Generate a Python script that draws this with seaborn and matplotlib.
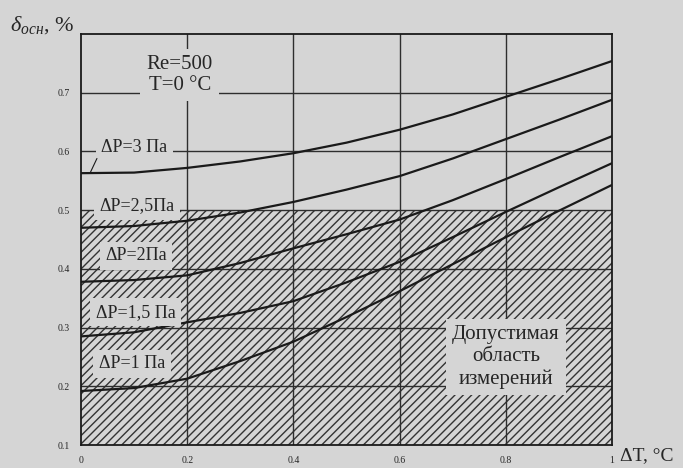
import numpy as np
import pandas as pd
import matplotlib
matplotlib.use('Agg')
import matplotlib.pyplot as plt
import seaborn as sns

# данные
dT = [0.0, 0.1, 0.2, 0.3, 0.4, 0.5, 0.6, 0.7, 0.8, 0.9, 1.0]
dp3 = [0.563, 0.564, 0.572, 0.583, 0.597, 0.615, 0.637, 0.663, 0.693, 0.723, 0.754]
dp25 = [0.470, 0.473, 0.482, 0.496, 0.514, 0.535, 0.558, 0.588, 0.621, 0.654, 0.688]
dp2 = [0.378, 0.381, 0.389, 0.410, 0.435, 0.459, 0.484, 0.517, 0.553, 0.590, 0.626]
dp15 = [0.285, 0.292, 0.309, 0.325, 0.345, 0.377, 0.412, 0.454, 0.497, 0.539, 0.580]
dp1 = [0.192, 0.197, 0.213, 0.243, 0.276, 0.318, 0.362, 0.408, 0.454, 0.499, 0.543]

series_names = ['ΔP=3 Па', 'ΔP=2,5Па', 'ΔP=2Па', 'ΔP=1,5 Па', 'ΔP=1 Па']
series_values = [dp3, dp25, dp2, dp15, dp1]

x_ticks = [0, 0.2, 0.4, 0.6, 0.8, 1]
x_tick_labels = ['0', '0.2', '0.4', '0.6', '0.8', '1']
y_ticks = [0.1, 0.2, 0.3, 0.4, 0.5, 0.6, 0.7]
y_tick_labels = ['0.1', '0.2', '0.3', '0.4', '0.5', '0.6', '0.7']

allowed_low = 0.1
allowed_high = 0.5

bg = '#d5d5d5'
ink = '#1a1a1a'

sns.set_style('white')
plt.rcParams['font.family'] = ['Liberation Serif', 'DejaVu Serif']
plt.rcParams['mathtext.fontset'] = 'custom'
plt.rcParams['mathtext.rm'] = 'Liberation Serif'
plt.rcParams['mathtext.it'] = 'Liberation Serif:italic'
plt.rcParams['hatch.linewidth'] = 1.0
plt.rcParams['hatch.color'] = '#333333'

df = pd.concat([pd.DataFrame({'dT': dT, 'delta': v, 'dp': n})
                for n, v in zip(series_names, series_values)], ignore_index=True)

fig = plt.figure(figsize=(6.83, 4.68), dpi=100, facecolor=bg)
ax = fig.add_axes([0.1186, 0.0491, 0.7775, 0.8782])
ax.set_facecolor(bg)

# допустимая область (штриховка)
ax.axhspan(allowed_low, allowed_high, facecolor='none', edgecolor='#333333',
           hatch='////', linewidth=0, zorder=1)

# сетка
for yv in y_ticks[1:]:
    ax.axhline(yv, color='#2e2e2e', lw=1.0, zorder=2)
for xv in x_ticks[1:-1]:
    ax.axvline(xv, color='#2e2e2e', lw=1.0, zorder=2)

sns.lineplot(data=df, x='dT', y='delta', hue='dp', palette=[ink] * 5,
             linewidth=1.6, legend=False, ax=ax, zorder=4)

ax.set_xlim(0, 1)
ax.set_ylim(0.1, 0.8)
ax.set_xticks(x_ticks)
ax.set_xticklabels(x_tick_labels, fontsize=7)
ax.set_yticks(y_ticks)
ax.set_yticklabels(y_tick_labels, fontsize=7)
ax.tick_params(length=0, pad=8)
ax.set_xlabel('')
ax.set_ylabel('')
for s in ax.spines.values():
    s.set_color(ink)
    s.set_linewidth(1.3)
    s.set_visible(True)

box = dict(boxstyle='square,pad=0.3', facecolor=bg, edgecolor='none')

ax.text(0.186, 0.730, 'Re=500\nT=0 °C', fontsize=15, ha='center', va='center',
        linespacing=1.15, zorder=5, bbox=dict(boxstyle='square,pad=0.3', facecolor=bg, edgecolor='none'))

label_pos = [(0.100, 0.607), (0.105, 0.507), (0.104, 0.422), (0.103, 0.326), (0.096, 0.238)]
for name, (lx, ly) in zip(series_names, label_pos):
    ax.text(lx, ly, name, fontsize=13, ha='center', va='center', zorder=5, bbox=box)

# выноска для ΔP=3
ax.plot([0.03, 0.018], [0.588, 0.565], color=ink, lw=0.8, zorder=5)

ax.text(0.80, 0.250, 'Допустимая\nобласть\nизмерений', fontsize=15, ha='center', va='center',
        linespacing=1.2, zorder=5, bbox=dict(boxstyle='square,pad=0.3', facecolor=bg, edgecolor='none'))

ax.text(-0.134, 1.022, r'$\delta_{осн}$, %', fontsize=16, ha='left', va='center',
        transform=ax.transAxes)
ax.text(1.015, -0.025, 'ΔT, °C', fontsize=14, ha='left', va='center',
        transform=ax.transAxes, clip_on=False)

fig.savefig('out.png', dpi=100, facecolor=bg)
